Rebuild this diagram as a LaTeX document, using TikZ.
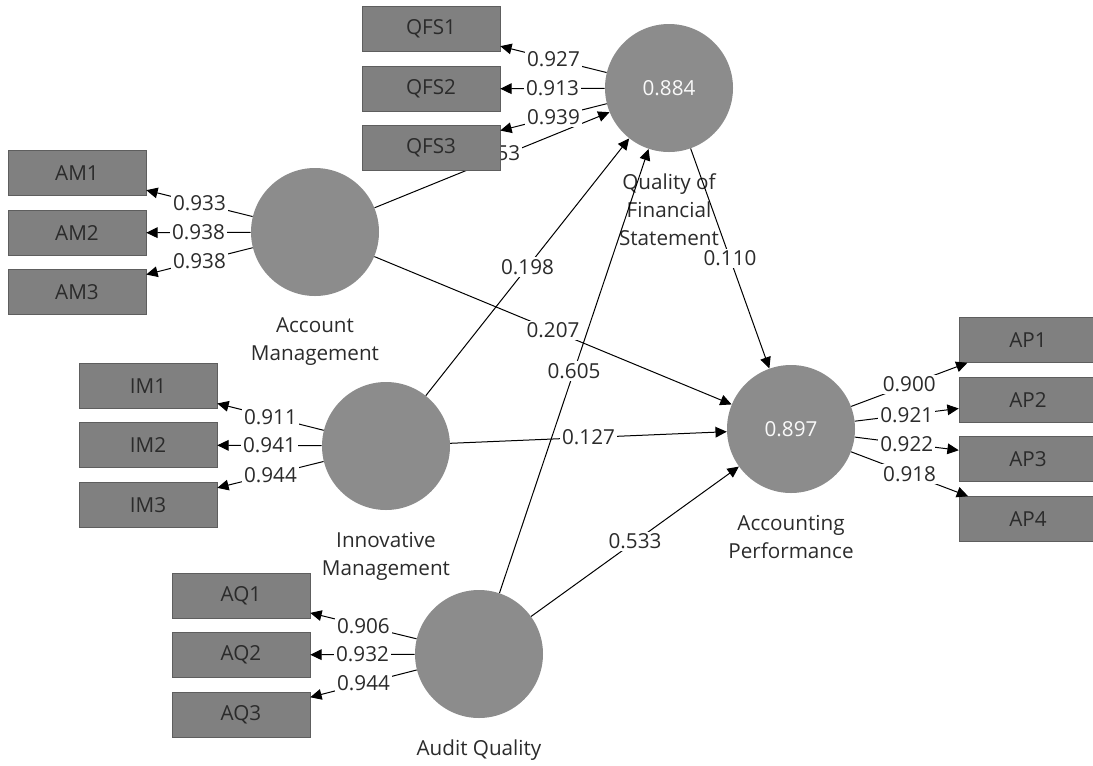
\documentclass[tikz,border=0pt]{standalone}
\usepackage{fontspec}
\setmainfont{Open Sans}
\usetikzlibrary{arrows.meta,positioning}
\definecolor{lvgray}{HTML}{8C8C8C}
\definecolor{mvgray}{HTML}{808080}
\definecolor{mvline}{HTML}{5E5E5E}
\definecolor{txt}{HTML}{2B2B2B}

\begin{document}
\begin{tikzpicture}[x=0.75pt, y=-0.75pt,
  every node/.style={font=\fontsize{15.5}{21}\selectfont, text=txt},
  lv/.style={circle, fill=lvgray, minimum size=96pt, inner sep=0pt, text=white!95!lvgray},
  mv/.style={rectangle, fill=mvgray, draw=mvline, minimum width=103.5pt, minimum height=33.75pt, inner sep=0pt},
  lvcap/.style={align=center, inner sep=0pt},
  ld/.style={-{Triangle[length=8.5pt,width=8pt]}, line width=0.75pt, black},
  wlabel/.style={fill=white, inner sep=1.5pt}]
  \useasboundingbox (0,0) rectangle (1093,765);

  % Latent variables
  \node[lv] (qfs) at (669,88)  {0.884};
  \node[lv] (am)  at (315,232) {};
  \node[lv] (im)  at (386,446) {};
  \node[lv] (aq)  at (479,654) {};
  \node[lv] (ap)  at (791,429) {0.897};

  % Captions
  \node[lvcap, below=16pt of qfs] {Quality of\\Financial\\Statement};
  \node[lvcap, below=16pt of am]  {Account\\Management};
  \node[lvcap, below=16pt of im]  {Innovative\\Management};
  \node[lvcap, below=16pt of aq]  {Audit Quality};
  \node[lvcap, below=16pt of ap]  {Accounting\\Performance};

  % Indicators
  \node[mv] (qfs1) at (431,29)  {QFS1};
  \node[mv] (qfs2) at (431,89)  {QFS2};
  \node[mv] (am1)  at (77,173)  {AM1};
  \node[mv] (am2)  at (77,233)  {AM2};
  \node[mv] (am3)  at (77,292)  {AM3};
  \node[mv] (im1)  at (148,386) {IM1};
  \node[mv] (im2)  at (148,445) {IM2};
  \node[mv] (im3)  at (148,505) {IM3};
  \node[mv] (aq1)  at (241,596) {AQ1};
  \node[mv] (aq2)  at (241,655) {AQ2};
  \node[mv] (aq3)  at (241,715) {AQ3};
  \node[mv] (ap1)  at (1028,340) {AP1};
  \node[mv] (ap2)  at (1028,400) {AP2};
  \node[mv] (ap3)  at (1028,459) {AP3};
  \node[mv] (ap4)  at (1028,519) {AP4};

  % Inner model (label of am->qfs sits under QFS3)
  \draw[ld] (am) -- node[wlabel, pos=0.57] {53} (qfs);
  \node[mv] (qfs3) at (431,148) {QFS3};
  \draw[ld] (am)  -- node[wlabel] {0.207} (ap);
  \draw[ld] (im)  -- node[wlabel] {0.198} (qfs);
  \draw[ld] (im)  -- node[wlabel] {0.127} (ap);
  \draw[ld] (aq)  -- node[wlabel] {0.605} (qfs);
  \draw[ld] (aq)  -- node[wlabel] {0.533} (ap);
  \draw[ld] (qfs) -- node[wlabel] {0.110} (ap);

  % Outer loadings
  \draw[ld] (qfs) -- node[wlabel] {0.927} (qfs1);
  \draw[ld] (qfs) -- node[wlabel] {0.913} (qfs2);
  \draw[ld] (qfs) -- node[wlabel] {0.939} (qfs3);
  \draw[ld] (am)  -- node[wlabel] {0.933} (am1);
  \draw[ld] (am)  -- node[wlabel] {0.938} (am2);
  \draw[ld] (am)  -- node[wlabel] {0.938} (am3);
  \draw[ld] (im)  -- node[wlabel] {0.911} (im1);
  \draw[ld] (im)  -- node[wlabel] {0.941} (im2);
  \draw[ld] (im)  -- node[wlabel] {0.944} (im3);
  \draw[ld] (aq)  -- node[wlabel] {0.906} (aq1);
  \draw[ld] (aq)  -- node[wlabel] {0.932} (aq2);
  \draw[ld] (aq)  -- node[wlabel] {0.944} (aq3);
  \draw[ld] (ap)  -- node[wlabel] {0.900} (ap1);
  \draw[ld] (ap)  -- node[wlabel] {0.921} (ap2);
  \draw[ld] (ap)  -- node[wlabel] {0.922} (ap3);
  \draw[ld] (ap)  -- node[wlabel] {0.918} (ap4);
\end{tikzpicture}
\end{document}
